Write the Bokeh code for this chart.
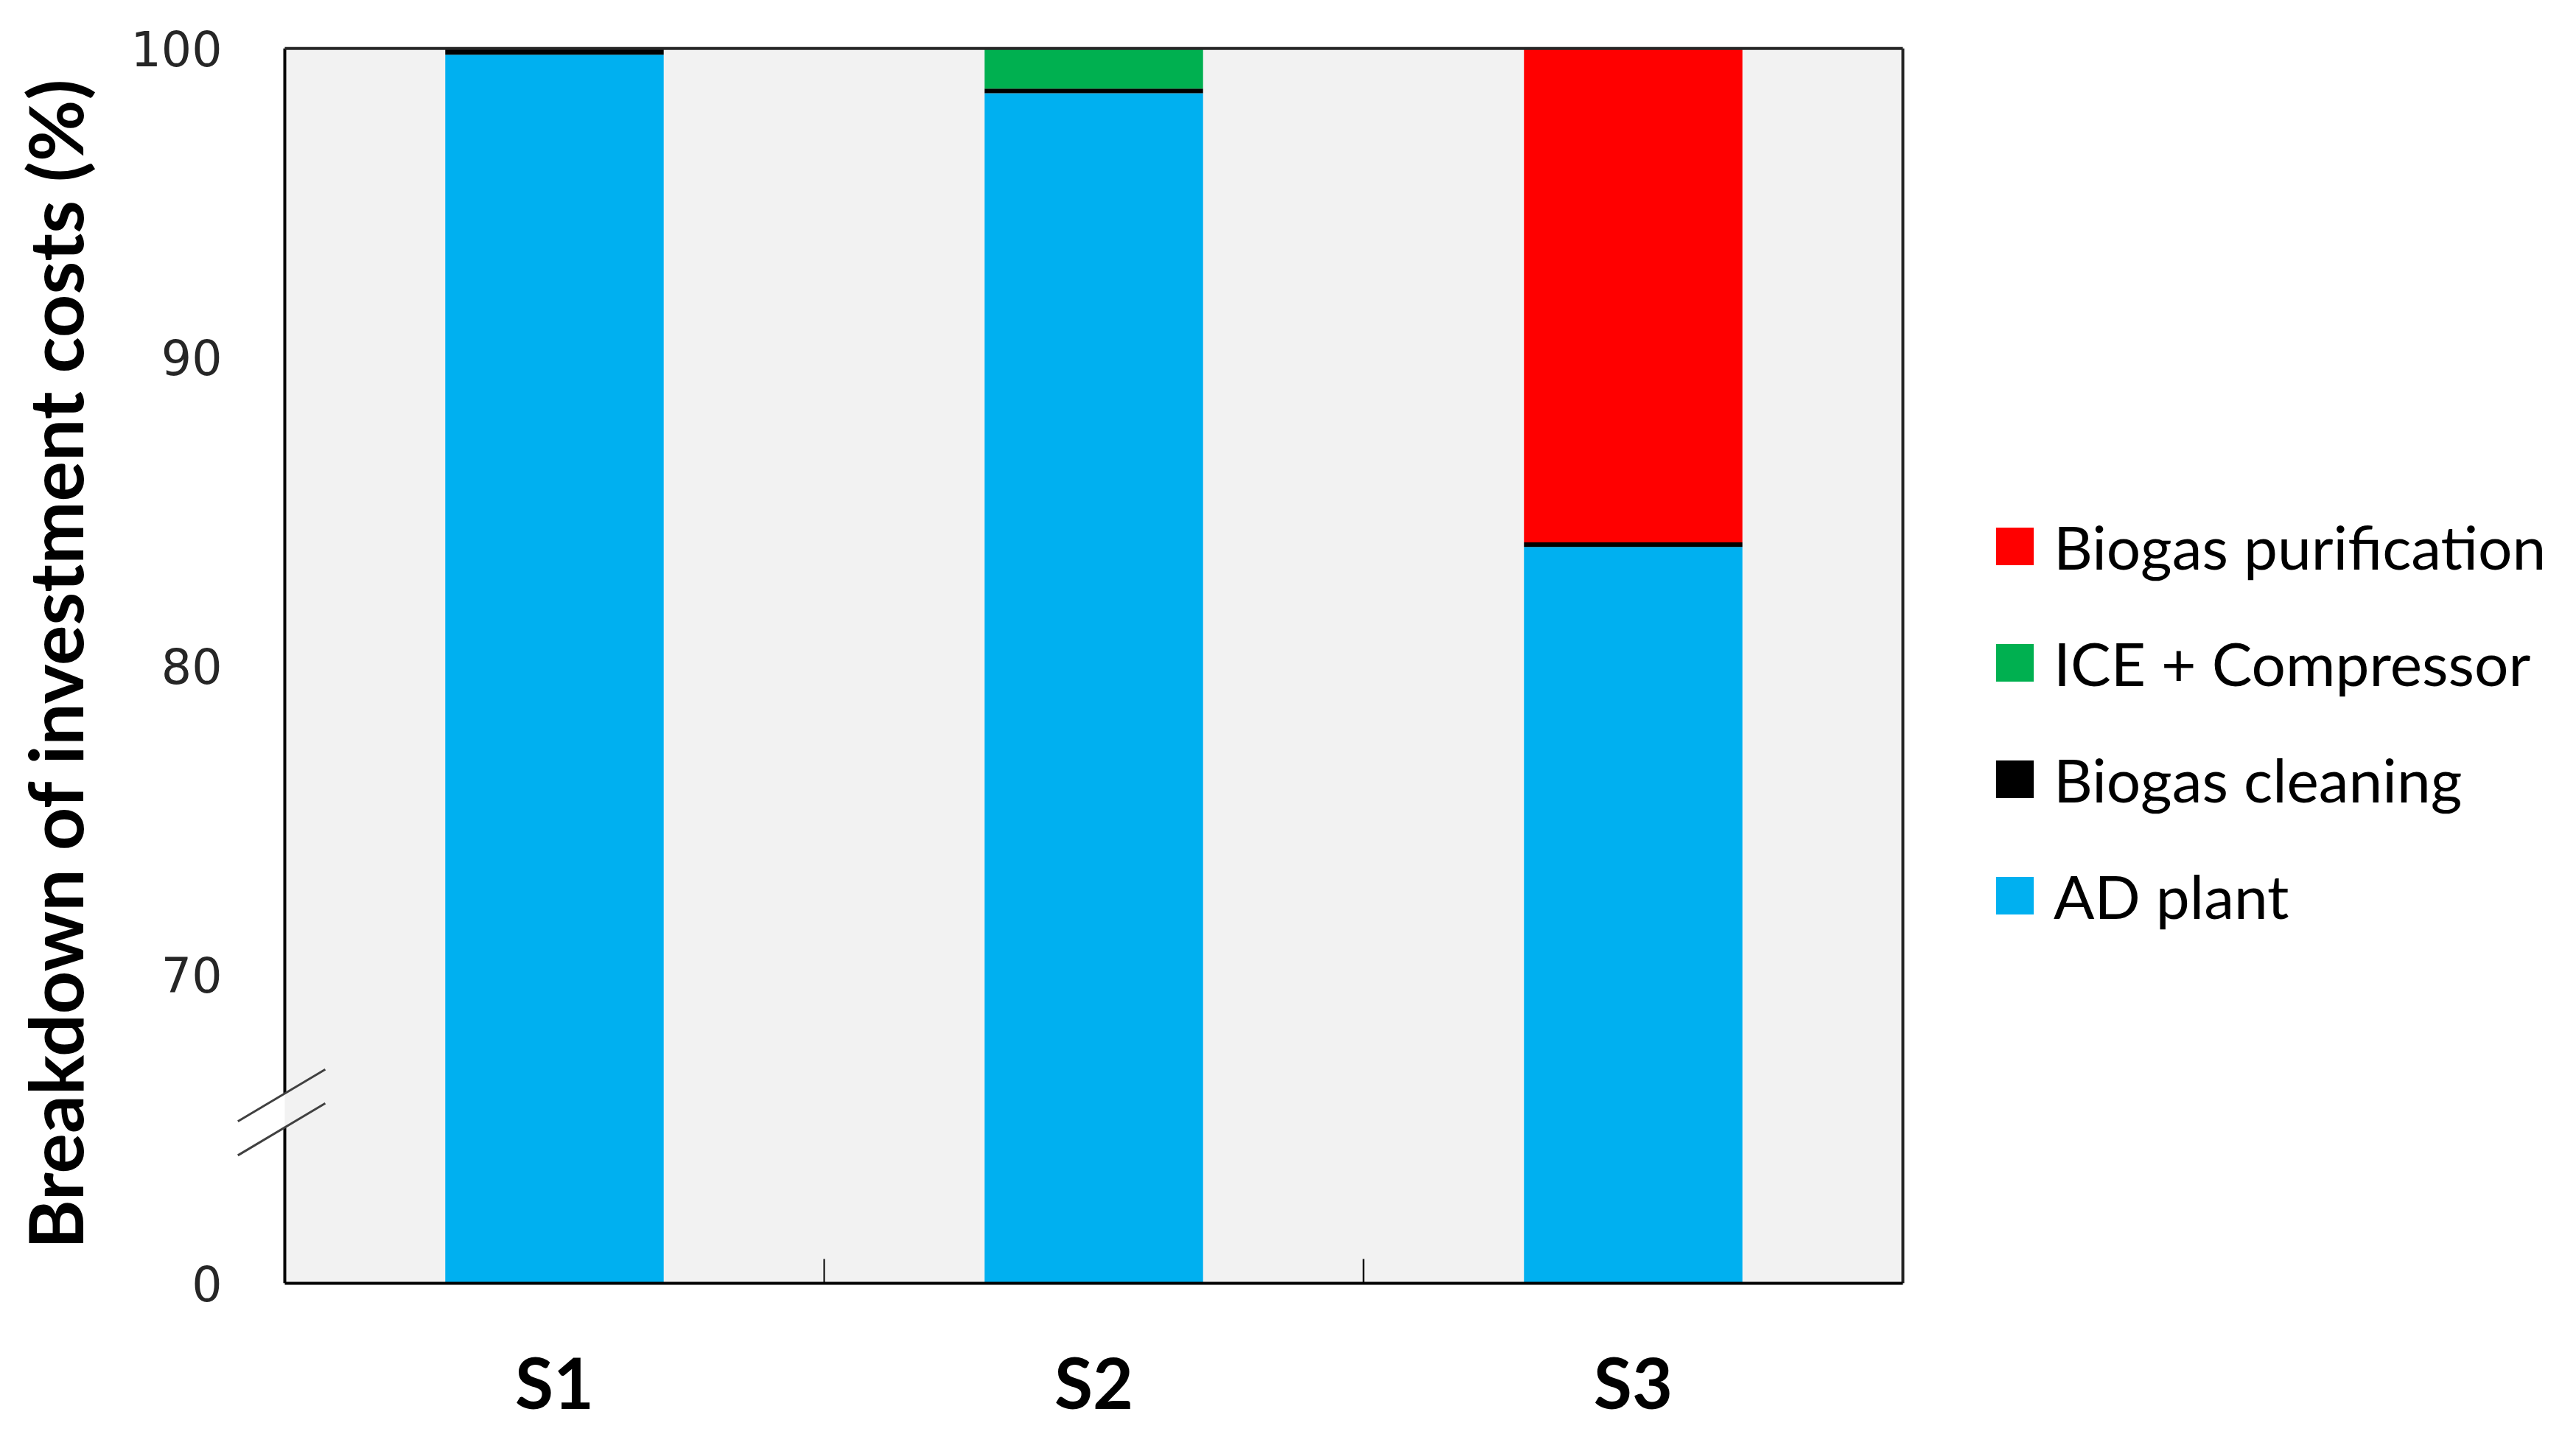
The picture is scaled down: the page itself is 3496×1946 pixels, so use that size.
from bokeh.plotting import figure
from bokeh.models import (Range1d, FixedTicker, Legend, LegendItem, BoxAnnotation,
                          ColumnDataSource)
from bokeh.embed import file_html
from bokeh.resources import INLINE

# ---- data (percent of investment costs) ----
categories = ["S1", "S2", "S3"]
ad_plant = [99.8, 98.55, 83.85]
biogas_cleaning = [0.2, 0.15, 0.15]
ice_compressor = [0.0, 1.3, 0.0]
biogas_purification = [0.0, 0.0, 16.0]
series_names = ["AD plant", "Biogas cleaning", "ICE + Compressor", "Biogas purification"]
series_colors = ["#00B0F0", "#000000", "#00B050", "#FF0000"]

# broken axis: value 60 on the scale is displayed as "0"
y_ticks = [60, 70, 80, 90, 100]
y_tick_labels = ["0", "70", "80", "90", "100"]
Y_MIN, Y_MAX = 60, 100
BREAK_LO, BREAK_HI = 65.05, 66.15   # where the break marks cross the axis

n = len(categories)
x_pos = [i + 0.5 for i in range(n)]
src = ColumnDataSource(dict(x=x_pos, ad=ad_plant, cl=biogas_cleaning,
                            ice=ice_compressor, pur=biogas_purification))

p = figure(frame_width=2274, frame_height=1682,
           x_range=Range1d(-0.097, n + 0.0096), y_range=Range1d(Y_MIN, Y_MAX + 0.15),
           output_backend="svg", toolbar_location=None,
           min_border_left=315, min_border_right=891,
           min_border_top=59, min_border_bottom=150,
           background_fill_color="white", border_fill_color="white",
           outline_line_color=None)

# plot area background
p.add_layout(BoxAnnotation(left=0, right=n, bottom=Y_MIN, top=Y_MAX,
                           fill_color="#f2f2f2", fill_alpha=1, line_color=None,
                           level="underlay"))

# horizontal grid lines
grid_y = [t for t in y_ticks if Y_MIN < t < Y_MAX]
p.segment(x0=[0] * len(grid_y), x1=[n] * len(grid_y), y0=grid_y, y1=grid_y,
          line_color="#8c8c8c", line_width=2, level="underlay")
p.xgrid.grid_line_color = None
p.ygrid.grid_line_color = None

rs = p.vbar_stack(["ad", "cl", "ice", "pur"], x="x", width=0.405, source=src,
                  fill_color=series_colors, line_color=None)

# frame borders (left border broken)
p.segment(x0=[0, 0], x1=[0, 0], y0=[Y_MIN, BREAK_HI], y1=[BREAK_LO, Y_MAX],
          line_color="black", line_width=4)
p.segment(x0=[0, n], x1=[n, n], y0=[Y_MAX, Y_MIN], y1=[Y_MAX, Y_MAX],
          line_color="#262626", line_width=4)

# axis break marks
slope = 10.4
x_out, x_in = -0.087, 0.075
p.segment(x0=[x_out, x_out], x1=[x_in, x_in],
          y0=[BREAK_LO + slope * x_out, BREAK_HI + slope * x_out],
          y1=[BREAK_LO + slope * x_in, BREAK_HI + slope * x_in],
          line_color="#404040", line_width=3)

# y axis
p.yaxis.ticker = FixedTicker(ticks=y_ticks)
p.yaxis.major_label_overrides = dict(zip(y_ticks, y_tick_labels))
p.yaxis.major_tick_line_color = None
p.yaxis.minor_tick_line_color = None
p.yaxis.major_tick_out = 0
p.yaxis.major_label_text_font = "DejaVu Sans"
p.yaxis.major_label_text_font_size = "65px"
p.yaxis.major_label_text_color = "#262626"
p.yaxis.major_label_standoff = 14
p.yaxis.axis_line_color = None
p.yaxis.axis_label = "Breakdown of investment costs (%)"
p.yaxis.axis_label_text_font = "Lato"
p.yaxis.axis_label_text_font_style = "bold"
p.yaxis.axis_label_text_font_size = "102px"
p.yaxis.axis_label_text_color = "black"
p.yaxis.axis_label_standoff = 39

# x axis
p.xaxis.ticker = FixedTicker(ticks=x_pos, minor_ticks=[i for i in range(1, n)])
p.xaxis.major_label_overrides = dict(zip(x_pos, categories))
p.xaxis.major_tick_line_color = None
p.xaxis.major_tick_out = 0
p.xaxis.minor_tick_in = 33
p.xaxis.minor_tick_out = 0
p.xaxis.minor_tick_line_color = "black"
p.xaxis.minor_tick_line_width = 2
p.xaxis.major_label_text_font = "Lato"
p.xaxis.major_label_text_font_style = "bold"
p.xaxis.major_label_text_font_size = "95px"
p.xaxis.major_label_text_color = "black"
p.xaxis.major_label_standoff = 76
p.xaxis.axis_line_color = "black"
p.xaxis.axis_line_width = 4
p.xaxis.bounds = (0, n)

# legend
order = [3, 2, 1, 0]
legend = Legend(items=[LegendItem(label=series_names[i], renderers=[rs[i]]) for i in order],
                location=(113, 474), orientation="vertical",
                border_line_color=None, background_fill_alpha=0,
                glyph_width=64, glyph_height=64, label_height=104,
                label_standoff=21, spacing=54, padding=0, margin=0,
                label_text_font="Lato", label_text_font_size="82px",
                label_text_color="black")
p.add_layout(legend, "right")

open("out.html", "w").write(file_html(p, INLINE))
